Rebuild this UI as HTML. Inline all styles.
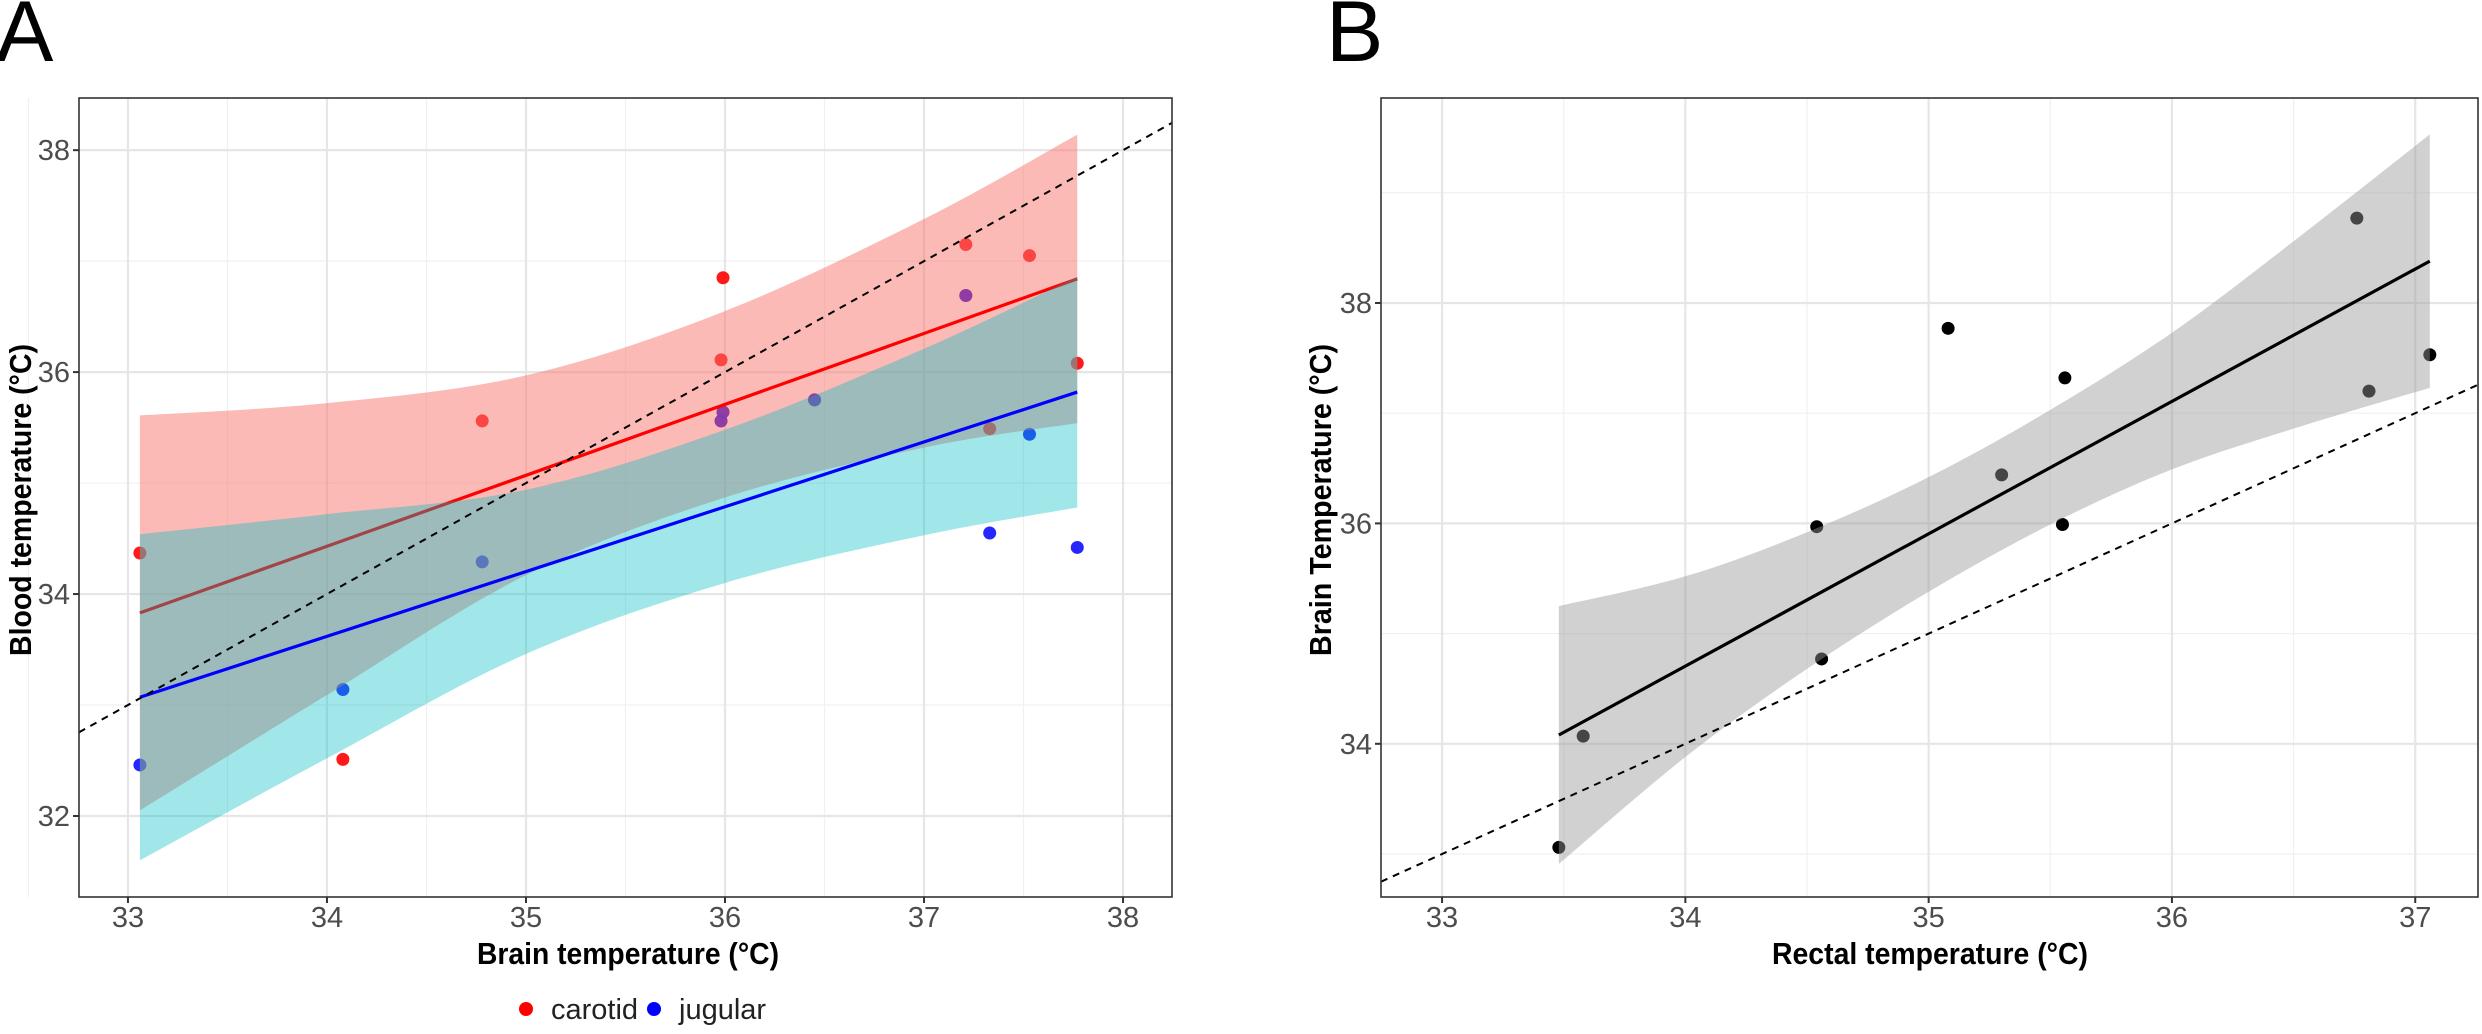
<!DOCTYPE html>
<html><head><meta charset="utf-8"><style>
html,body{margin:0;padding:0;background:#fff;}
svg{display:block;font-family:"Liberation Sans",sans-serif;}
</style></head><body>
<svg id="fig" width="2482" height="1034" viewBox="0 0 2482 1034">
<text x="-4" y="61" font-size="86" fill="#000">A</text>
<text x="1326" y="61" font-size="86" fill="#000">B</text>
<g id="pa"></g>
<g id="pb"></g>
<text x="20" y="500" font-size="31" font-weight="bold" text-anchor="middle" textLength="312" lengthAdjust="spacingAndGlyphs" transform="rotate(-90 20 500) translate(0 11)">Blood temperature (°C)</text>
<text x="628" y="964" font-size="31" font-weight="bold" text-anchor="middle" textLength="302" lengthAdjust="spacingAndGlyphs">Brain temperature (°C)</text>
<text x="1320" y="500" font-size="31" font-weight="bold" text-anchor="middle" textLength="312" lengthAdjust="spacingAndGlyphs" transform="rotate(-90 1320 500) translate(0 11)">Brain Temperature (°C)</text>
<text x="1930" y="964" font-size="31" font-weight="bold" text-anchor="middle" textLength="316" lengthAdjust="spacingAndGlyphs">Rectal temperature (°C)</text>
<g>
<g><circle cx="526" cy="1009" r="7" fill="#f00"/><text x="551" y="1019" font-size="29" fill="#222">carotid</text></g>
<g><circle cx="654" cy="1009" r="7" fill="#00f"/><text x="679" y="1019" font-size="29" fill="#222">jugular</text></g>
</g>
</svg>
<script>
// Panel A data
const carotidX = [33.06,34.08,34.78,35.99,35.98,37.21,37.53,37.77,37.33,35.98,35.99,36.45,37.21];
const carotidY = [34.37,32.51,35.56,36.85,36.11,37.15,37.05,36.08,35.49,35.56,35.64,35.75,36.69];
const jugularX = [33.06,34.08,34.78,35.98,35.99,36.45,37.21,37.33,37.53,37.77];
const jugularY = [32.46,33.14,34.29,35.56,35.64,35.75,36.69,34.55,35.44,34.42];
const bandAX = [33.06,34,35,36,37,37.77];
const carotidFit = [33.83,34.43,35.07,35.71,36.35,36.84];
const carotidUpper = [35.61,35.72,35.97,36.55,37.38,38.14];
const carotidLower = [32.05,33.09,34.17,34.87,35.32,35.54];
const jugularFit = [33.07,33.62,34.20,34.79,35.37,35.82];
const jugularUpper = [34.54,34.72,34.94,35.48,36.21,36.86];
const jugularLower = [31.60,32.52,33.46,34.10,34.53,34.78];
const ticksAX = [33,34,35,36,37,38];
const ticksAY = [32,34,36,38];
// Panel B data
const rectalX = [33.48,33.58,34.54,34.56,35.08,35.30,35.56,35.55,36.76,36.81,37.06];
const brainY = [33.06,34.07,35.97,34.77,37.77,36.44,37.32,35.99,38.77,37.20,37.53];
const bandBX = [33.48,34,34.5,35,35.5,36,36.5,37.06];
const fitB = [34.08,34.70,35.30,35.90,36.51,37.11,37.71,38.38];
const upperB = [35.25,35.52,35.92,36.42,37.03,37.73,38.56,39.53];
const lowerB = [32.91,33.88,34.68,35.38,35.99,36.49,36.86,37.23];
const ticksBX = [33,34,35,36,37];
const ticksBY = [34,36,38];

const NS="http://www.w3.org/2000/svg";
function mk(parent,tag,attrs){const e=document.createElementNS(NS,tag);for(const k in attrs)e.setAttribute(k,attrs[k]);parent.appendChild(e);return e;}
function crSpline(pts){let d="M"+pts[0][0]+","+pts[0][1];for(let i=0;i<pts.length-1;i++){const p0=pts[Math.max(0,i-1)],p1=pts[i],p2=pts[i+1],p3=pts[Math.min(pts.length-1,i+2)];
const c1=[p1[0]+(p2[0]-p0[0])/6,p1[1]+(p2[1]-p0[1])/6],c2=[p2[0]-(p3[0]-p1[0])/6,p2[1]-(p3[1]-p1[1])/6];d+=" C"+c1+" "+c2+" "+p2;}return d;}

function panel(g,box,xd,yd,tx,ty,minorX,minorY,id){
  const sx=v=>box.l+(v-xd[0])/(xd[1]-xd[0])*(box.r-box.l);
  const sy=v=>box.b-(v-yd[0])/(yd[1]-yd[0])*(box.b-box.t);
  const clip=mk(g,"clipPath",{id:"clip"+id});mk(clip,"rect",{x:box.l,y:box.t,width:box.r-box.l,height:box.b-box.t});
  minorX.forEach(v=>{const l=mk(g,"line",{x1:sx(v),x2:sx(v),y1:box.t,y2:box.b,stroke:"#f0f0f0","stroke-width":1.2});});
  minorY.forEach(v=>{const l=mk(g,"line",{y1:sy(v),y2:sy(v),x1:box.l,x2:box.r,stroke:"#f0f0f0","stroke-width":1.2});});
  tx.forEach(v=>{const l=mk(g,"line",{x1:sx(v),x2:sx(v),y1:box.t,y2:box.b,stroke:"#e6e6e6","stroke-width":2.2});
    const t=mk(g,"line",{x1:sx(v),x2:sx(v),y1:box.b,y2:box.b+6,stroke:"#333","stroke-width":2});
    const s=mk(g,"text",{x:sx(v),y:box.b+30,"font-size":29,fill:"#4d4d4d","text-anchor":"middle"});s.textContent=v;});
  ty.forEach(v=>{const l=mk(g,"line",{y1:sy(v),y2:sy(v),x1:box.l,x2:box.r,stroke:"#e6e6e6","stroke-width":2.2});
    const t=mk(g,"line",{y1:sy(v),y2:sy(v),x1:box.l-6,x2:box.l,stroke:"#333","stroke-width":2});
    const s=mk(g,"text",{x:box.l-9,y:sy(v)+10,"font-size":29,fill:"#4d4d4d","text-anchor":"end"});s.textContent=v;});
  const inner=mk(g,"g",{"clip-path":"url(#clip"+id+")"});
  return {sx,sy,inner,box};
}
function band(P,xs,up,lo,fill,op,name){
  const top=xs.map((x,i)=>[P.sx(x),P.sy(up[i])]);const bot=xs.map((x,i)=>[P.sx(x),P.sy(lo[i])]).reverse();
  let d=crSpline(top);d+=" L"+bot[0]+" "+crSpline(bot).slice(1)+" Z";
  const p=mk(P.inner,"path",{d:d,fill:fill,"fill-opacity":op});
}
function fitLine(P,xs,ys,col,name){
  const n=xs.length-1;const l=mk(P.inner,"line",{x1:P.sx(xs[0]),y1:P.sy(ys[0]),x2:P.sx(xs[n]),y2:P.sy(ys[n]),stroke:col,"stroke-width":3.2});
  
}
function pts(P,xs,ys,col,op,name){xs.forEach((x,i)=>{const c=mk(P.inner,"circle",{cx:P.sx(x),cy:P.sy(ys[i]),r:6.5,fill:col,"fill-opacity":op});});}
function identity(P,xd){const l=mk(P.inner,"line",{x1:P.sx(xd[0]),y1:P.sy(xd[0]),x2:P.sx(xd[1]),y2:P.sy(xd[1]),stroke:"#000","stroke-width":2,"stroke-dasharray":"7,6"});}
function frame(g,b){const r=mk(g,"rect",{x:b.l,y:b.t,width:b.r-b.l,height:b.b-b.t,fill:"none",stroke:"#333","stroke-width":1.6});}

// Panel A
const ga=document.getElementById("pa");
const xdA=[32.754,38.246], ydA=[31.27,38.47];
const A=panel(ga,{l:79,r:1172,t:98,b:897},xdA,ydA,ticksAX,ticksAY,[32.5,33.5,34.5,35.5,36.5,37.5],[33,35,37],"A");
pts(A,carotidX,carotidY,"#ff0000",0.9,"carotid-point");
pts(A,jugularX,jugularY,"#0000ff",0.85,"jugular-point");
band(A,bandAX,carotidUpper,carotidLower,"#F8766D",0.5,"carotid-confidence-band");
fitLine(A,bandAX,carotidFit,"#ff0000","carotid-fit-line");
band(A,bandAX,jugularUpper,jugularLower,"#00BFC4",0.37,"jugular-confidence-band");
fitLine(A,bandAX,jugularFit,"#0000ff","jugular-fit-line");
identity(A,xdA);
frame(ga,A.box);

// Panel B
const gb=document.getElementById("pb");
const xdB=[32.749,37.258], ydB=[32.61,39.86];
const B=panel(gb,{l:1381,r:2478,t:98,b:897},xdB,ydB,ticksBX,ticksBY,[33.5,34.5,35.5,36.5],[33,35,37,39],"B");
pts(B,rectalX,brainY,"#000",1,"brain-rectal-point");
band(B,bandBX,upperB,lowerB,"#999999",0.45,"confidence-band");
fitLine(B,bandBX,fitB,"#000","fit-line");
identity(B,xdB);
frame(gb,B.box);
</script>
</body></html>
